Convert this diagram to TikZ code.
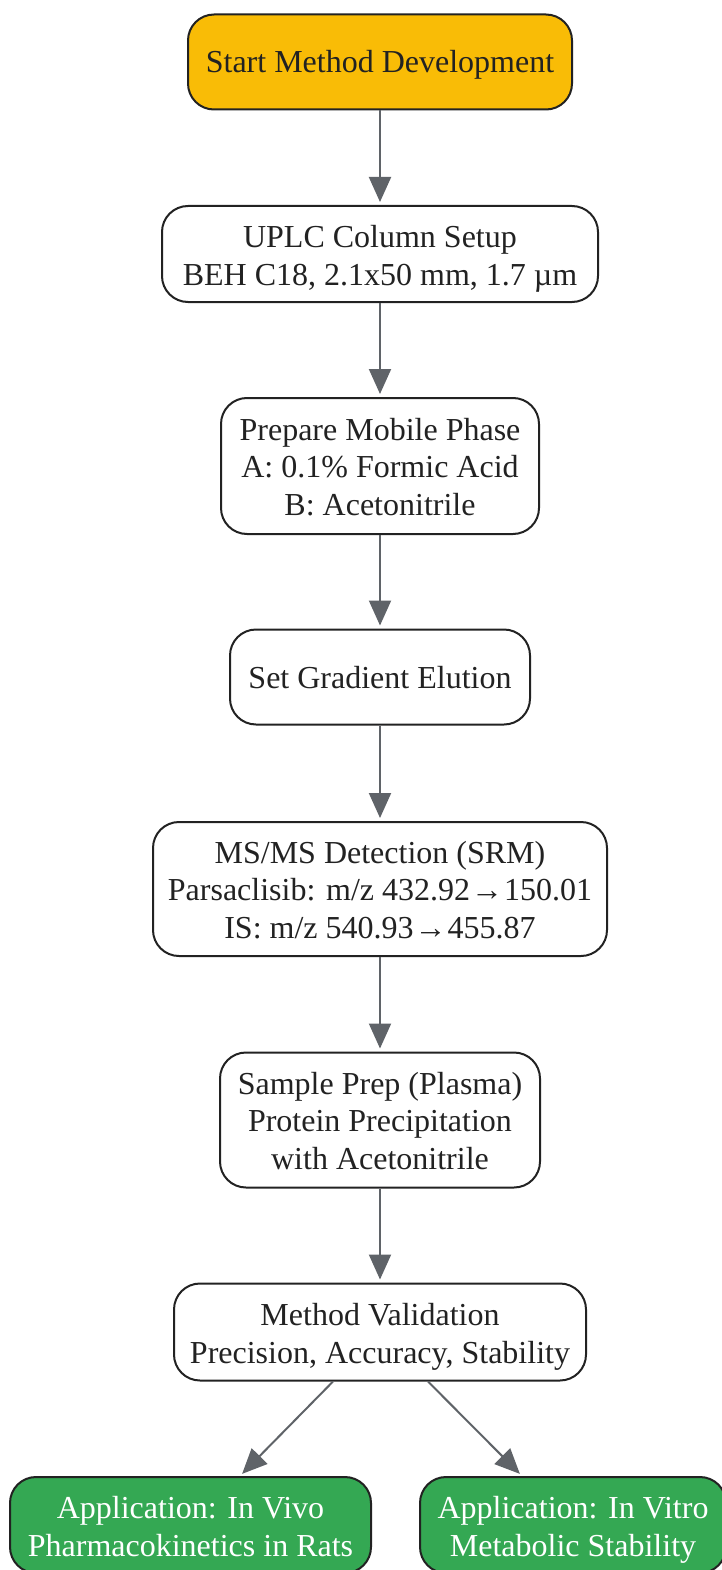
\documentclass[tikz,border=0pt]{standalone}
\usepackage{fontspec}
\setmainfont{Liberation Serif}
\usetikzlibrary{arrows.meta}
\definecolor{gold}{HTML}{F9BC06}
\definecolor{gpgreen}{HTML}{34A853}
\definecolor{edgegray}{HTML}{5F6368}
\definecolor{ink}{HTML}{222222}
\tikzset{
  box/.style={draw=ink, line width=2pt, rounded corners=26pt, fill=white, text=ink,
    align=center, inner sep=0pt, font=\fontsize{32}{37.5}\selectfont, text depth=3pt},
  oneline/.style={text height=25pt},
  twoline/.style={text height=65.5pt},
  threeline/.style={text height=101pt},
  startbox/.style={box, fill=gold},
  appbox/.style={box, fill=gpgreen, text=white},
  flow/.style={draw=edgegray, line width=2pt, -{Triangle[length=25pt,width=22pt]}, shorten >=3pt}
}
\begin{document}
\begin{tikzpicture}[x=1pt,y=-1pt]
\useasboundingbox (0,0) rectangle (721,1570);
\node[startbox, oneline, minimum width=384pt, minimum height=95pt] (n1) at (380,62) {Start Method Development};
\node[box, twoline, minimum width=436pt, minimum height=96pt] (n2) at (380,254) {UPLC Column Setup\\BEH C18, 2.1x50 mm, 1.7 µm};
\node[box, threeline, minimum width=318pt, minimum height=136pt] (n3) at (380,466) {Prepare Mobile Phase\\A: 0.1\% Formic Acid\\B: Acetonitrile};
\node[box, oneline, minimum width=300pt, minimum height=95pt] (n4) at (380,677) {Set Gradient Elution};
\node[box, threeline, minimum width=454pt, minimum height=134pt] (n5) at (380,889) {MS/MS Detection (SRM)\\Parsaclisib: m/z 432.92{\kern1pt}→{\kern1pt}150.01\\IS: m/z 540.93{\kern1pt}→{\kern1pt}455.87};
\node[box, threeline, minimum width=320pt, minimum height=135pt] (n6) at (380,1120) {Sample Prep (Plasma)\\Protein Precipitation\\with Acetonitrile};
\node[box, twoline, minimum width=412pt, minimum height=97pt] (n7) at (380,1332) {Method Validation\\Precision, Accuracy, Stability};
\node[appbox, twoline, minimum width=361pt, minimum height=96pt] (n8) at (190.5,1525) {Application: In Vivo\\Pharmacokinetics in Rats};
\node[appbox, twoline, minimum width=306pt, minimum height=96pt] (n9) at (573,1525) {Application: In Vitro\\Metabolic Stability};
\draw[flow] (n1) -- (n2);
\draw[flow] (n2) -- (n3);
\draw[flow] (n3) -- (n4);
\draw[flow] (n4) -- (n5);
\draw[flow] (n5) -- (n6);
\draw[flow] (n6) -- (n7);
\draw[flow] (n7.south -| 333,0) -- (n8.north -| 240,0);
\draw[flow] (n7.south -| 428,0) -- (n9.north -| 522,0);
\end{tikzpicture}
\end{document}
